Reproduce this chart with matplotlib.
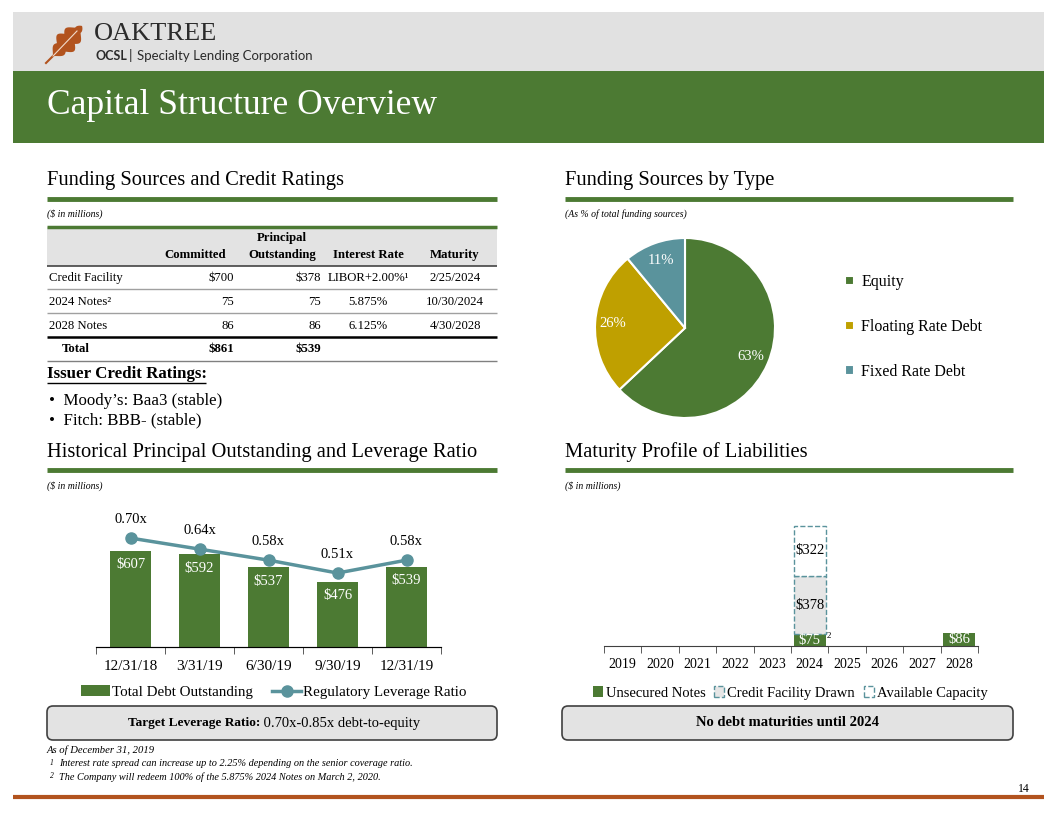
import numpy as np
import matplotlib
matplotlib.use("Agg")
import matplotlib.pyplot as plt
from matplotlib.patches import Rectangle, FancyBboxPatch, Polygon, Patch

# ---- data ----
table_names = ["Credit Facility", "2024 Notes\u00b2", "2028 Notes"]
committed = [700, 75, 86]
outstanding = [378, 75, 86]
rates = ["LIBOR+2.00%\u00b9", "5.875%", "6.125%"]
maturities = ["2/25/2024", "10/30/2024", "4/30/2028"]

pie_labels = ["Equity", "Floating Rate Debt", "Fixed Rate Debt"]
pie_values = [63, 26, 11]

dates = ["12/31/18", "3/31/19", "6/30/19", "9/30/19", "12/31/19"]
total_debt = [607, 592, 537, 476, 539]
leverage = [0.70, 0.64, 0.58, 0.51, 0.58]

years = ["2019", "2020", "2021", "2022", "2023", "2024", "2025", "2026", "2027", "2028"]
unsecured = [0, 0, 0, 0, 0, 75, 0, 0, 0, 86]
drawn = [0, 0, 0, 0, 0, 378, 0, 0, 0, 0]
available = [0, 0, 0, 0, 0, 322, 0, 0, 0, 0]

GREEN = "#4C7A33"
GOLD = "#BFA000"
TEAL = "#5A939C"
GRAY = "#E1E1E1"
ORANGE = "#B2531E"
SERIF = "Liberation Serif"

W, H = 1056, 816
fig = plt.figure(figsize=(W / 100, H / 100), dpi=100)
plt.rcParams["font.family"] = SERIF

bg = fig.add_axes([0, 0, 1, 1])
bg.set_xlim(0, W)
bg.set_ylim(H, 0)
bg.axis("off")


def txt(x, y, s, size=10, **kw):
    kw.setdefault("va", "center")
    return bg.text(x, y, s, fontsize=size, **kw)


def hline(x0, x1, y, lw=1, color="black"):
    bg.plot([x0, x1], [y, y], color=color, lw=lw, solid_capstyle="butt")


def axes_px(x0, y0, x1, y1):
    return fig.add_axes([x0 / W, 1 - y1 / H, (x1 - x0) / W, (y1 - y0) / H])


# ---- header ----
bg.add_patch(Rectangle((13, 12), 1031, 59, color=GRAY, lw=0))
bg.add_patch(Rectangle((13, 71), 1031, 72, color=GREEN, lw=0))
txt(47, 106, "Capital Structure Overview", 25.5, color="white")

# oak leaf logo
t = np.linspace(0, 1, 160)
half = 12 * np.sin(np.pi * t) ** 0.8 * (0.62 + 0.38 * np.abs(np.sin(3.5 * np.pi * t)))
p0, p1 = np.array([53.0, 56.0]), np.array([82.0, 26.0])
ax_dir = (p1 - p0) / np.linalg.norm(p1 - p0)
nrm = np.array([-ax_dir[1], ax_dir[0]])
L = np.linalg.norm(p1 - p0)
top = p0 + np.outer(t * L, ax_dir) + np.outer(half, nrm)
bot = p0 + np.outer(t * L, ax_dir) - np.outer(half, nrm)
bg.add_patch(Polygon(np.vstack([top, bot[::-1]]), closed=True, color=ORANGE, lw=0))
bg.plot([46, 58], [63, 51], color=ORANGE, lw=1.5)
bg.plot([53, 77], [56, 31], color="#F3DCCB", lw=0.8)
txt(94, 34, "OAKTREE", 19, color="#2B2B2B")
txt(95, 56, "OCSL", 9, color="#2B2B2B", fontweight="bold", family="Lato")
txt(131, 55, "|", 10, color="#2B2B2B", ha="center", family="Lato")
txt(137, 56, "Specialty Lending Corporation", 9.5, color="#2B2B2B", family="Lato")

# ---- section headings ----
for x0, x1, y, s in [(47, 497, 181, "Funding Sources and Credit Ratings"),
                     (565, 1013, 181, "Funding Sources by Type"),
                     (47, 497, 452, "Historical Principal Outstanding and Leverage Ratio"),
                     (565, 1013, 452, "Maturity Profile of Liabilities")]:
    txt(x0, y, s, 14.8)
    hline(x0, x1, y + 18, lw=3.5, color=GREEN)
txt(47, 214, "($ in millions)", 7, style="italic")
txt(565, 214, "(As % of total funding sources)", 7, style="italic")
txt(47, 486, "($ in millions)", 7, style="italic")
txt(565, 486, "($ in millions)", 7, style="italic")

# ---- table ----
bg.add_patch(Rectangle((47, 227), 450, 39, color="#E3E3E3", lw=0))
hline(47, 497, 227, lw=2.5, color=GREEN)
hline(47, 497, 266, lw=1.2, color="#444444")
fs = 9.2
txt(226, 255, "Committed", fs, ha="right", fontweight="bold")
txt(282, 238, "Principal", fs, ha="center", fontweight="bold")
txt(282, 255, "Outstanding", fs, ha="center", fontweight="bold")
txt(368, 255, "Interest Rate", fs, ha="center", fontweight="bold")
txt(455, 255, "Maturity", fs, ha="center", fontweight="bold")
row_y = [278, 302, 326]
for i, y in enumerate(row_y):
    txt(49, y, table_names[i], fs)
    txt(234, y, ("$%d" if i == 0 else "%d") % committed[i], fs, ha="right")
    txt(321, y, ("$%d" if i == 0 else "%d") % outstanding[i], fs, ha="right")
    txt(368, y, rates[i], fs, ha="center")
    txt(455, y, maturities[i], fs, ha="center")
    if i < 2:
        hline(47, 497, y + 11, lw=1, color="#A0A0A0")
hline(47, 497, 337, lw=1.8, color="black")
txt(62, 349, "Total", fs, fontweight="bold")
txt(234, 349, "$%d" % sum(committed), fs, ha="right", fontweight="bold")
txt(321, 349, "$%d" % sum(outstanding), fs, ha="right", fontweight="bold")
hline(47, 497, 361, lw=1, color="#808080")

txt(47, 374, "Issuer Credit Ratings:", 12.2, fontweight="bold")
hline(47, 206, 383, lw=1, color="black")
txt(49, 401, "\u2022  Moody\u2019s: Baa3 (stable)", 12.2)
txt(49, 420, "\u2022  Fitch: BBB- (stable)", 12.2)

# ---- pie ----
pax = axes_px(595, 238, 775, 418)
wedges, _, autot = pax.pie(pie_values, colors=[GREEN, GOLD, TEAL], startangle=90,
                           counterclock=False, autopct="%d%%", pctdistance=0.8,
                           wedgeprops=dict(edgecolor="white", linewidth=1.5),
                           textprops=dict(color="white", fontsize=10.5))
pax.set_xlim(-1, 1)
pax.set_ylim(-1, 1)
pax.set_aspect("equal")
pax.legend(wedges, pie_labels, loc="center left", bbox_to_anchor=(831 / W, 1 - 327 / H),
           bbox_transform=fig.transFigure, frameon=False, fontsize=11.5,
           handlelength=0.55, handleheight=0.55, handletextpad=0.45, labelspacing=1.8)

# ---- historical bars + leverage line ----
bax = axes_px(96, 515, 441, 647)
x = np.arange(len(dates))
bars = bax.bar(x, total_debt, width=0.6, color=GREEN)
bax.set_ylim(200, 200 + 132 / 0.2366)
bax.set_xlim(-0.5, len(dates) - 0.5)
for xi, v in zip(x, total_debt):
    bax.annotate("$%d" % v, (xi, v), xytext=(0, -14), textcoords="offset pixels",
                 ha="center", va="center", color="white", fontsize=10.5)
lax = bax.twinx()
ln, = lax.plot(x, leverage, color=TEAL, lw=2.5, marker="o", markersize=8)
lax.set_ylim(0.108, 0.108 + 132 / 184)
for xi, v in zip(x, leverage):
    lax.annotate("%.2fx" % v, (xi, v), xytext=(0, 19), textcoords="offset pixels",
                 ha="center", va="center", fontsize=10.5)
for a in (bax, lax):
    for s in ("top", "right", "left"):
        a.spines[s].set_visible(False)
    a.set_yticks([])
bax.spines["bottom"].set_color("#404040")
bax.set_xticks(x)
bax.set_xticklabels(dates, fontsize=11)
bax.tick_params(axis="x", length=0, pad=9)
bax.set_xticks(np.arange(-0.5, len(dates)), minor=True)
bax.tick_params(axis="x", which="minor", length=5, color="#404040")
bax.legend([bars, ln], ["Total Debt Outstanding", "Regulatory Leverage Ratio"], ncol=2,
           loc="center", bbox_to_anchor=(274 / W, 1 - 692 / H), bbox_transform=fig.transFigure,
           frameon=False, fontsize=10.8, handlelength=1.9, columnspacing=1.3,
           handletextpad=0.15)

# ---- maturity profile ----
max_ = axes_px(604, 520, 978, 646)
xm = np.arange(len(years))
bw = 0.85
max_.bar(xm, unsecured, width=bw, color=GREEN)
drawn_bot = np.array(unsecured)
max_.bar(xm, drawn, width=bw, bottom=drawn_bot, color="#E6E6E6",
         edgecolor=[TEAL if d else "none" for d in drawn], linestyle="--", linewidth=1)
avail_bot = drawn_bot + np.array(drawn)
max_.bar(xm, available, width=bw, bottom=avail_bot, color="white",
         edgecolor=[TEAL if a else "none" for a in available], linestyle="--", linewidth=1)
max_.set_ylim(0, 126 / 0.155)
max_.set_xlim(-0.5, len(years) - 0.5)
for i in xm:
    if unsecured[i]:
        max_.text(i, unsecured[i] / 2, "$%d" % unsecured[i], ha="center", va="center",
                  color="white", fontsize=10.5)
    if drawn[i]:
        max_.text(i, drawn_bot[i] + drawn[i] / 2, "$%d" % drawn[i], ha="center",
                  va="center", fontsize=10.5)
        max_.text(i + 0.45, unsecured[i] * 0.85, "2", fontsize=6.5, va="center")
    if available[i]:
        max_.text(i, avail_bot[i] + available[i] / 2, "$%d" % available[i], ha="center",
                  va="center", fontsize=10.5)
for s in ("top", "right", "left"):
    max_.spines[s].set_visible(False)
max_.set_yticks([])
max_.spines["bottom"].set_color("#404040")
max_.set_xticks(xm)
max_.set_xticklabels(years, fontsize=10)
max_.tick_params(axis="x", length=0, pad=9)
max_.set_xticks(np.arange(-0.5, len(years)), minor=True)
max_.tick_params(axis="x", which="minor", length=5, color="#404040")
h_un = Patch(facecolor=GREEN, edgecolor="none")
h_dr = Patch(facecolor="#E6E6E6", edgecolor=TEAL, linestyle="--")
h_av = Patch(facecolor="white", edgecolor=TEAL, linestyle="--")
max_.legend([h_un, h_dr, h_av], ["Unsecured Notes", "Credit Facility Drawn", "Available Capacity"],
            ncol=3, loc="center", bbox_to_anchor=(790 / W, 1 - 693 / H),
            bbox_transform=fig.transFigure, frameon=False, fontsize=10.5,
            handlelength=0.7, handleheight=0.7, handletextpad=0.2, columnspacing=0.6)

# ---- callout boxes ----
for x0, x1 in [(47, 497), (562, 1013)]:
    bg.add_patch(FancyBboxPatch((x0, 706), x1 - x0, 34,
                                boxstyle="round,pad=0,rounding_size=6",
                                facecolor="#E3E3E3", edgecolor="#404040", lw=1.2))
t1 = txt(0, 723, "Target Leverage Ratio:", 9.6, fontweight="bold")
t2 = txt(0, 723, " 0.70x-0.85x debt-to-equity", 10.5)
r = fig.canvas.get_renderer()
w1 = t1.get_window_extent(r).width
w2 = t2.get_window_extent(r).width
start = 274 - (w1 + w2) / 2
t1.set_x(start)
t2.set_x(start + w1)
txt(787, 723, "No debt maturities until 2024", 10.5, fontweight="bold", ha="center")

# ---- footnotes ----
txt(47, 750, "As of December 31, 2019", 7.7, style="italic")
txt(50, 763, "1", 5.5, style="italic")
txt(59, 764, "Interest rate spread can increase up to 2.25% depending on the senior coverage ratio.",
    7.4, style="italic")
txt(50, 776, "2", 5.5, style="italic")
txt(59, 777, "The Company will redeem 100% of the 5.875% 2024 Notes on March 2, 2020.",
    7.4, style="italic")
hline(13, 1044, 797, lw=3, color=ORANGE)
txt(1030, 789, "14", 8.5, ha="right")

fig.savefig("out.png", dpi=100)
